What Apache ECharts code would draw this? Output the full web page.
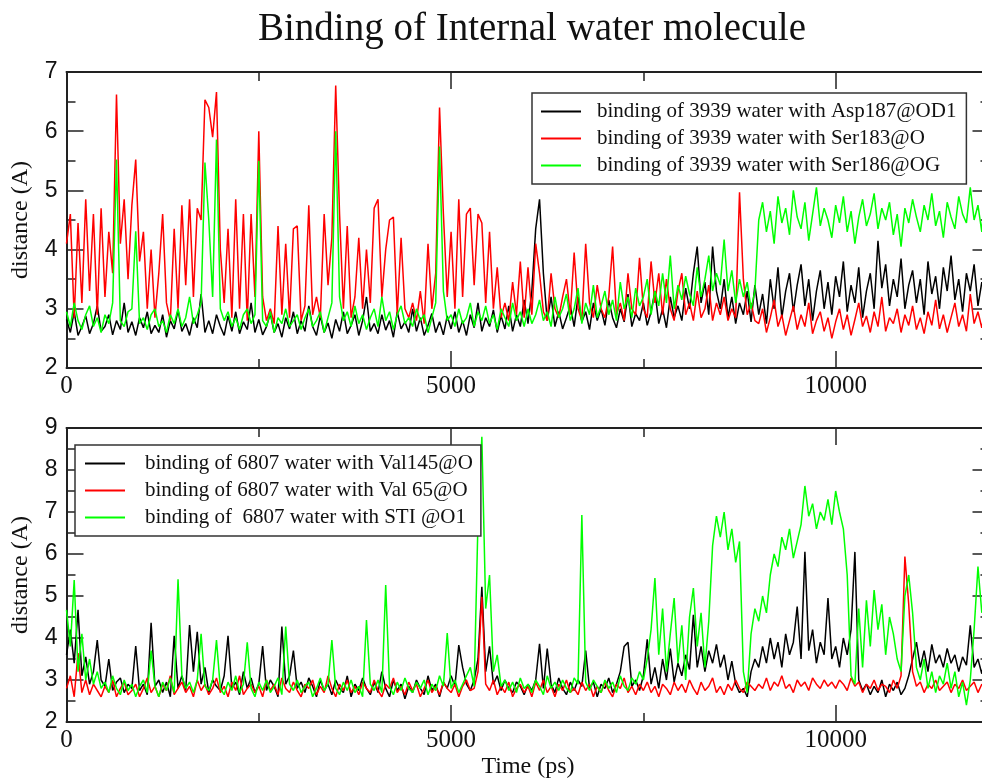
<!DOCTYPE html>
<html>
<head>
<meta charset="utf-8">
<script src="https://cdn.jsdelivr.net/npm/echarts@6/dist/echarts.min.js"></script>
<style>
  html, body { margin: 0; padding: 0; background: #fff; }
  #chart { width: 982px; height: 782px; }
</style>
</head>
<body>
<div id="chart"></div>
<script>
// sampling step of the trajectory (ps)
const stepPs = 50;

// upper panel: water 3939
const nameAsp187 = "binding of 3939 water with Asp187@OD1";
const nameSer183 = "binding of 3939 water with Ser183@O";
const nameSer186 = "binding of 3939 water with Ser186@OG";
// lower panel: water 6807
const nameVal145 = "binding of 6807 water with Val145@O";
const nameVal65 = "binding of 6807 water with Val 65@O";
const nameSti = "binding of  6807 water with STI @O1";

const asp187 = [
  2.82, 2.6, 2.95, 2.55, 2.7, 2.88, 2.58, 2.75, 3.05, 2.62,
  2.7, 2.9, 2.56, 2.8, 2.65, 3.1, 2.6, 2.78, 2.55, 2.85,
  2.68, 2.95, 2.58, 2.72, 2.6, 2.9, 2.52, 2.8, 2.66, 2.98,
  2.62, 2.75, 2.55, 2.85, 2.68, 3.25, 2.6, 2.8, 2.58, 2.9,
  2.7, 2.55, 2.88, 2.62, 2.95, 2.58, 2.78, 2.65, 3.1, 2.6,
  2.82, 2.56, 2.7, 2.92, 2.6, 2.75, 2.52, 2.85, 2.66, 2.95,
  2.58, 2.8, 2.62, 3.05, 2.7, 2.55, 2.88, 2.6, 2.76, 2.5,
  2.82, 2.62, 2.95, 2.58, 2.72, 2.9, 2.55, 2.8, 3.2, 2.62,
  2.75, 2.58, 2.9, 2.64, 2.8, 2.52, 2.95, 2.66, 2.78, 2.6,
  3.0, 2.62, 2.85, 2.55, 2.72, 2.92, 2.6, 2.78, 2.56, 2.88,
  2.66, 2.95, 2.6, 2.8, 2.55, 2.9, 2.68, 3.1, 2.62, 2.85,
  2.7, 2.98, 2.6, 2.88, 2.66, 3.05, 2.62, 2.9, 2.7, 3.15,
  2.75, 3.3, 4.35, 4.85, 3.6, 2.8, 3.2, 2.7, 2.95, 2.66,
  2.85, 3.05, 2.7, 3.2, 2.78, 2.95, 2.65, 3.1, 2.8, 3.0,
  2.72, 3.15, 2.85, 2.68, 3.0, 2.78, 3.25, 2.7, 2.92, 2.8,
  3.1, 2.72, 2.95, 3.3, 2.75, 3.0, 2.68, 3.2, 2.85, 3.05,
  2.8, 3.35, 3.0, 3.6, 4.05, 3.1, 3.45, 2.9, 4.05, 3.3,
  3.0, 3.5, 2.85, 3.2, 2.75, 3.1, 2.9, 3.3, 2.78, 3.4,
  2.9, 3.25, 2.75, 3.5, 3.0, 3.7, 2.85, 3.3, 3.6, 2.95,
  3.4, 3.75, 3.05, 3.5, 2.8, 3.3, 3.65, 3.0, 3.45, 2.9,
  3.55, 3.2, 3.8, 2.95, 3.4, 3.1, 3.7, 2.85, 3.3, 3.6,
  3.0, 4.15, 3.35, 3.75, 3.05, 3.5, 3.2, 3.85, 3.0, 3.4,
  3.65, 3.1, 3.5, 2.9, 3.8, 3.25, 3.55, 3.0, 3.7, 3.3,
  3.9, 3.15, 3.5, 2.95, 3.6, 3.3, 3.75, 3.05, 3.45, 3.2, 3.5
];

const ser183 = [
  4.1, 4.6, 2.85, 4.45, 3.1, 4.85, 3.3, 4.6, 2.9, 4.7,
  3.2, 4.3, 3.6, 6.62, 4.1, 4.85, 3.5, 4.75, 5.52, 3.8,
  4.3, 3.0, 4.0, 2.85, 3.6, 4.6, 3.1, 2.8, 4.35, 3.0,
  4.75, 3.4, 4.85, 3.2, 4.7, 4.5, 6.53, 6.4, 5.9, 6.66,
  4.0, 3.1, 4.35, 2.85, 4.85, 3.0, 4.6, 2.8, 4.6, 3.2,
  6.0, 3.2, 2.8, 3.0, 2.75, 4.4, 2.9, 4.1, 2.85, 4.35,
  4.4, 2.8, 3.05, 4.75, 2.9, 3.2, 2.85, 4.6, 3.4, 4.2,
  6.77, 4.6, 3.0, 4.4, 2.85, 3.2, 4.2, 3.0, 4.0, 3.1,
  4.7, 4.85, 3.2, 4.0, 4.5, 4.55, 2.9, 4.2, 3.0, 2.85,
  3.1, 2.8, 3.3, 2.75, 4.1, 3.0, 3.6, 6.4, 4.6, 3.2,
  4.3, 3.0, 4.85, 3.2, 4.6, 4.7, 3.4, 4.6, 4.45, 3.1,
  4.3, 3.0, 3.7, 2.85, 3.1, 2.8, 3.45, 2.9, 3.8, 2.85,
  3.7, 2.9, 4.1, 3.6, 2.95, 2.8, 3.6, 3.0, 2.85, 3.2,
  3.5, 2.9, 3.95, 3.0, 2.8, 4.1, 3.1, 2.85, 3.4, 3.0,
  2.85, 3.2, 4.05, 2.9, 3.1, 2.8, 3.6, 3.0, 2.9, 3.86,
  3.0, 2.85, 3.8, 3.1, 3.6, 2.9, 3.5, 3.0, 2.8, 3.3,
  3.6, 2.9, 3.1, 2.8, 3.3, 2.85, 3.0, 3.4, 2.8, 3.1,
  2.9, 3.2, 2.8, 3.0, 2.85, 4.97, 3.5, 2.9, 3.1, 2.8,
  2.75, 3.0, 2.6, 2.85, 3.15, 2.7, 2.9, 2.55, 2.8, 3.05,
  2.65, 2.9, 2.7, 3.1, 2.58, 2.8, 2.95, 2.62, 2.85, 2.5,
  2.78, 3.0, 2.65, 2.9, 2.55, 2.82, 3.1, 2.7, 2.88, 2.6,
  2.95, 2.7, 3.2, 2.62, 2.85, 2.75, 3.0, 2.6, 2.9, 2.72,
  3.05, 2.65, 2.85, 2.58, 2.95, 2.72, 3.15, 2.66, 2.9, 2.6,
  2.85, 3.1, 2.7, 2.9, 2.62, 3.25, 2.75, 2.95, 2.68, 3.0, 2.8
];

const ser186 = [
  2.95, 2.7, 3.1, 2.8, 2.65, 2.9, 3.05, 2.7, 2.85, 2.6,
  2.9, 2.75, 3.1, 5.52, 2.8, 2.7, 2.95, 3.0, 4.31, 2.75,
  2.85, 2.65, 2.9, 3.0, 2.7, 2.8, 2.6, 2.9, 2.75, 3.0,
  2.7, 2.85, 3.2, 2.75, 2.9, 3.1, 5.47, 4.5, 3.2, 5.86,
  3.0, 2.8, 2.95, 2.7, 2.85, 2.65, 2.9, 3.0, 2.75, 2.9,
  5.5, 2.8, 2.7, 2.95, 2.6, 2.85, 2.75, 3.0, 2.7, 2.8,
  2.9, 2.65, 2.85, 3.0, 2.7, 2.8, 2.95, 2.6, 2.85, 3.1,
  6.0, 3.2, 2.8, 2.95, 2.7, 3.05, 2.75, 2.9, 2.65, 2.85,
  3.0, 2.7, 3.2, 2.8, 2.95, 2.65, 2.9, 3.05, 2.75, 2.85,
  2.7, 3.0, 2.8, 2.9, 2.6, 2.85, 3.1, 5.74, 3.3, 2.8,
  2.9, 2.7, 3.0, 2.75, 2.85, 3.1, 2.7, 2.95, 2.8, 3.05,
  2.75, 2.9, 2.65, 3.0, 2.85, 2.7, 3.1, 2.8, 2.95, 2.7,
  3.0, 2.75, 2.9, 3.15, 2.8, 2.95, 2.7, 3.2, 2.85, 3.0,
  3.25, 2.8, 3.0, 3.35, 2.75, 3.1, 2.9, 3.4, 2.85, 3.05,
  3.3, 2.9, 3.15, 2.8, 3.45, 3.0, 3.2, 2.85, 3.35, 3.05,
  3.2, 3.5, 2.9, 3.3, 3.05, 3.6, 3.1, 3.9, 3.0, 3.4,
  3.15, 3.55, 3.25, 3.05, 3.7, 3.2, 3.5, 3.9, 3.3, 3.6,
  3.4, 4.17, 3.3, 3.65, 3.1, 3.5, 3.2, 3.45, 3.0, 3.3,
  4.5, 4.8, 4.3, 4.65, 4.1, 4.9, 4.45, 4.7, 4.25, 5.0,
  4.55, 4.35, 4.8, 4.15, 4.6, 5.05, 4.4, 4.7, 4.5, 4.2,
  4.75, 4.45, 4.9, 4.3, 4.65, 4.1, 4.55, 4.85, 4.4, 4.6,
  4.95, 4.35, 4.7, 4.5, 4.8, 4.25, 4.6, 4.05, 4.7, 4.45,
  4.85, 4.55, 4.3, 4.75, 4.5, 4.95, 4.4, 4.65, 4.2, 4.8,
  4.55, 4.35, 4.9, 4.6, 4.45, 5.05, 4.5, 4.75, 4.3, 5.2, 4.6
];

const val145 = [
  3.6, 4.2, 3.4, 4.67, 3.1, 3.55, 2.9, 3.2, 3.95, 3.0,
  2.85, 3.5, 2.75, 2.95, 3.05, 2.7, 2.9, 2.8, 3.81, 2.75,
  2.9, 2.65, 4.36, 2.85, 3.0, 2.7, 2.95, 2.6, 4.05, 2.8,
  3.1, 2.75, 4.31, 3.2, 4.15, 2.9, 3.3, 2.7, 3.0, 2.85,
  2.75, 3.1, 4.05, 2.8, 2.95, 2.65, 3.2, 2.8, 3.05, 2.7,
  2.9, 3.81, 2.75, 3.0, 2.85, 2.6, 4.27, 2.9, 3.1, 3.7,
  2.8, 2.95, 2.7, 3.05, 2.85, 2.6, 3.0, 2.75, 2.9, 2.65,
  3.0, 2.8, 2.7, 3.1, 2.6, 2.9, 2.75, 3.05, 2.8, 2.65,
  2.95, 2.7, 3.2, 2.8, 2.6, 3.0, 2.75, 2.9, 2.55, 2.85,
  2.7, 3.0, 2.8, 2.65, 3.1, 2.75, 2.9, 2.6, 2.95, 2.8,
  3.1, 2.85, 3.83, 3.3, 2.9, 2.75, 3.0, 3.5, 5.22, 3.2,
  3.8, 2.9, 3.1, 2.75, 3.0, 2.8, 2.7, 2.95, 2.85, 2.65,
  2.9, 2.75, 3.0, 3.86, 2.8, 3.75, 2.9, 2.7, 3.05, 2.8,
  2.65, 2.95, 2.75, 3.0, 2.85, 3.7, 2.8, 2.95, 2.6, 2.9,
  2.8, 3.05, 2.7, 2.9, 3.2, 3.8, 3.9, 2.85, 3.0, 2.75,
  3.1, 3.97, 2.9, 3.3, 2.8, 3.5, 3.0, 3.75, 2.95, 3.4,
  3.1, 3.6, 3.25, 4.55, 3.3, 3.8, 3.2, 3.7, 3.4, 3.85,
  3.3, 3.6, 3.0, 3.45, 2.9, 2.7, 2.8, 2.6, 3.2, 3.5,
  3.3, 3.8, 3.4, 4.0, 3.5, 3.9, 3.3, 4.1, 3.6, 3.9,
  4.75, 3.5, 6.05, 3.7, 4.2, 3.4, 3.9, 3.6, 4.95, 3.5,
  3.8, 3.3, 4.0, 3.6, 4.2, 6.05, 3.0, 2.75, 2.9, 2.65,
  2.85, 2.7, 3.0, 2.6, 2.9, 2.75, 2.95, 2.65, 2.8, 3.1,
  3.5, 3.9, 3.3, 3.7, 3.2, 3.85, 3.4, 3.6, 3.3, 3.75,
  3.4, 3.6, 3.2, 3.55, 3.35, 4.3, 3.3, 3.5, 3.15, 3.6, 3.4
];

const val65 = [
  2.8, 3.1, 2.6, 3.64, 2.7, 3.0, 2.65, 2.9, 2.75, 2.6,
  2.85, 2.7, 3.0, 2.6, 2.8, 2.95, 2.65, 2.75, 2.9, 2.6,
  2.8, 3.05, 2.7, 2.85, 2.6, 2.9, 2.75, 3.1, 2.65, 2.8,
  2.95, 2.7, 2.85, 2.6, 3.0, 2.75, 2.9, 2.65, 2.8, 3.05,
  2.7, 2.85, 2.6, 2.95, 2.75, 3.1, 2.65, 2.8, 2.9, 2.7,
  2.85, 2.6, 3.0, 2.75, 2.9, 2.65, 3.05, 2.8, 2.7, 2.95,
  2.75, 2.6, 2.9, 2.8, 3.0, 2.65, 2.85, 2.7, 3.1, 2.8,
  2.6, 2.9, 2.75, 3.0, 2.7, 2.85, 2.65, 2.95, 2.8, 2.7,
  3.0, 2.75, 2.6, 2.9, 2.8, 3.05, 2.7, 2.85, 2.65, 2.95,
  2.75, 2.9, 2.6, 2.8, 3.0, 2.7, 2.85, 2.65, 2.95, 2.8,
  2.7, 2.9, 2.6, 2.85, 3.0, 2.75, 2.8, 3.2, 4.98, 2.9,
  2.75, 3.0, 2.65, 2.85, 2.7, 2.95, 2.6, 2.8, 2.9, 2.7,
  2.85, 2.6, 2.95, 2.75, 3.0, 2.7, 2.85, 2.6, 2.9, 2.75,
  3.0, 2.7, 2.8, 2.65, 2.95, 2.75, 2.9, 2.6, 2.85, 2.7,
  2.95, 2.75, 2.6, 2.9, 2.8, 3.05, 2.7, 2.85, 2.65, 2.9,
  2.75, 2.95, 2.7, 2.85, 2.6, 2.9, 2.8, 2.65, 2.95, 2.75,
  2.9, 2.7, 3.0, 2.8, 2.65, 2.95, 2.75, 2.85, 3.05, 2.7,
  2.85, 2.65, 2.9, 2.75, 3.0, 2.8, 2.7, 2.95, 2.85, 2.75,
  2.9, 2.8, 3.05, 2.75, 2.95, 2.85, 3.1, 2.8, 2.9, 2.7,
  3.0, 2.85, 2.95, 2.75, 3.05, 2.9, 2.8, 3.0, 2.85, 2.95,
  2.8, 3.0, 2.9, 2.75, 3.05, 2.85, 2.95, 2.7, 2.9, 2.8,
  3.0, 2.75, 2.9, 2.85, 2.7, 3.0, 2.8, 3.1, 5.94, 4.8,
  3.2, 2.85, 2.95, 2.7, 2.9, 2.8, 3.0, 2.75, 2.85, 2.95,
  2.7, 2.9, 2.8, 3.0, 2.75, 2.85, 2.95, 2.7, 2.9, 2.8, 2.85
];

const sti = [
  4.67, 3.8, 5.38, 3.2, 4.1, 3.0, 3.5, 2.9, 3.2, 2.8,
  2.95, 2.7, 3.1, 2.8, 2.65, 3.0, 2.75, 2.9, 2.6, 2.85,
  3.0, 2.7, 3.7, 2.85, 2.6, 2.95, 2.75, 3.05, 2.7, 5.4,
  3.1, 2.8, 2.95, 2.7, 3.0, 4.1, 2.85, 2.75, 3.0, 3.95,
  2.8, 2.65, 2.95, 2.75, 3.1, 2.7, 2.9, 3.9, 2.8, 2.6,
  2.95, 2.75, 3.0, 2.7, 2.85, 3.05, 2.65, 4.27, 2.9, 2.75,
  3.0, 2.7, 2.85, 2.95, 2.6, 2.8, 3.05, 2.75, 2.9, 3.95,
  2.8, 2.65, 2.95, 2.75, 3.0, 2.7, 2.85, 2.6, 4.43, 2.9,
  2.75, 3.0, 2.7, 5.26, 2.85, 2.65, 2.95, 2.75, 3.05, 2.8,
  2.7, 2.95, 2.8, 3.0, 2.65, 2.9, 2.75, 3.1, 2.85, 4.12,
  2.8, 3.0, 2.7, 2.9, 3.1, 3.3, 2.85, 6.8, 8.79, 4.7,
  5.5, 3.2, 3.6, 2.85, 3.0, 2.75, 2.95, 2.7, 3.05, 2.8,
  2.9, 2.7, 3.0, 2.85, 2.65, 3.1, 2.8, 2.95, 2.75, 3.0,
  2.8, 2.7, 3.05, 2.9, 6.93, 2.95, 2.75, 3.0, 2.85, 2.7,
  3.0, 2.8, 2.95, 2.7, 3.1, 2.85, 2.75, 3.05, 2.9, 3.2,
  3.0, 3.5, 4.2, 5.43, 3.6, 4.7, 3.2, 4.1, 4.95, 3.4,
  4.3, 3.0, 4.5, 5.19, 3.8, 4.6, 3.3, 4.4, 6.2, 6.9,
  6.4, 7.0, 6.1, 6.6, 5.8, 6.3, 3.2, 2.7, 4.1, 4.7,
  4.4, 5.0, 4.6, 5.5, 6.0, 5.7, 6.4, 6.1, 6.6, 5.9,
  6.3, 6.7, 7.62, 6.9, 7.2, 6.6, 7.0, 6.8, 7.3, 6.7,
  7.5, 7.0, 6.6, 5.5, 3.1, 2.9, 4.7, 3.3, 4.9, 3.8,
  5.14, 4.2, 4.8, 3.6, 4.5, 4.1, 3.5, 3.2, 5.0, 5.5,
  4.6, 3.3, 3.0, 3.5, 2.8, 3.2, 2.7, 3.1, 2.9, 3.4,
  2.8, 3.2, 2.6, 2.95, 2.4, 3.0, 4.2, 5.7, 4.6, 5.1, 4.5
];

const xTicks = [0, 5000, 10000];
const topRange = [2, 7];
const bottomRange = [2, 9];

function pairs(values) {
  return values.map((v, i) => [i * stepPs, v]);
}

const axisColor = "#222";
const serif = "Liberation Serif";

function xAxisConf(gridIndex, position, showLabel, name) {
  return {
    type: "value",
    gridIndex: gridIndex,
    position: position,
    min: 0,
    max: 12000,
    interval: 5000,
    name: name || "",
    nameLocation: "middle",
    nameGap: 33,
    nameTextStyle: { fontFamily: serif, fontSize: 24, color: "#111" },
    axisLine: { show: true, onZero: false, lineStyle: { color: axisColor, width: 2 } },
    axisTick: { show: true, inside: true, length: 17, lineStyle: { color: axisColor, width: 1.5 } },
    minorTick: { show: true, splitNumber: 2, length: 9, lineStyle: { color: axisColor, width: 1.5 } },
    splitLine: { show: false },
    axisLabel: {
      show: showLabel,
      margin: 6,
      fontFamily: serif,
      fontSize: 25,
      color: "#111",
      formatter: (v) => (xTicks.indexOf(v) >= 0 ? String(v) : ""),
    },
  };
}

function yAxisConf(gridIndex, position, range, showLabel) {
  return {
    type: "value",
    gridIndex: gridIndex,
    position: position,
    min: range[0],
    max: range[1],
    interval: 1,
    name: showLabel ? "distance (A)" : "",
    nameLocation: "middle",
    nameGap: 34,
    nameRotate: 90,
    nameTextStyle: { fontFamily: serif, fontSize: 24, color: "#111" },
    axisLine: { show: true, onZero: false, lineStyle: { color: axisColor, width: 2 } },
    axisTick: { show: true, inside: true, length: 17, lineStyle: { color: axisColor, width: 1.5 } },
    minorTick: { show: true, splitNumber: 2, length: 9, lineStyle: { color: axisColor, width: 1.5 } },
    splitLine: { show: false },
    axisLabel: {
      show: showLabel,
      margin: 9,
      fontFamily: "Liberation Sans",
      fontSize: 23,
      color: "#111",
    },
  };
}

function lineSeries(name, values, color, axisIdx) {
  return {
    name: name,
    type: "line",
    xAxisIndex: axisIdx,
    yAxisIndex: axisIdx,
    data: pairs(values),
    symbol: "none",
    showSymbol: false,
    sampling: null,
    lineStyle: { color: color, width: 1.5 },
    itemStyle: { color: color },
  };
}

function legendConf(names, left, top, padding, textPad) {
  return {
    orient: "vertical",
    left: left,
    top: top,
    padding: padding,
    itemGap: 6,
    itemWidth: 40,
    itemHeight: 2,
    icon: "rect",
    borderColor: "#333",
    borderWidth: 1.5,
    backgroundColor: "#fff",
    data: names,
    textStyle: {
      fontFamily: serif,
      fontSize: 21,
      color: "#111",
      padding: [0, 0, 0, textPad],
    },
  };
}

let chart = echarts.init(document.getElementById("chart"), null, { renderer: "canvas" });
let option = {
  animation: false,
  backgroundColor: "#fff",
  title: {
    text: "Binding of Internal water molecule",
    left: 258,
    top: 10,
    padding: 0,
    textStyle: { fontFamily: serif, fontSize: 39, fontWeight: "normal", color: "#111" },
  },
  legend: [
    legendConf([nameAsp187, nameSer183, nameSer186], 532, 93, [8, 10, 8, 9], 11),
    legendConf([nameVal145, nameVal65, nameSti], 75, 445, [8, 8, 8, 10], 15),
  ],
  grid: [
    { left: 66.5, right: -7.5, top: 72, height: 296, outerBoundsMode: "none" },
    { left: 66.5, right: -7.5, top: 428, height: 294, outerBoundsMode: "none" },
  ],
  xAxis: [
    xAxisConf(0, "bottom", true),
    xAxisConf(1, "bottom", true, "Time (ps)"),
    xAxisConf(0, "top", false),
    xAxisConf(1, "top", false),
  ],
  yAxis: [
    yAxisConf(0, "left", topRange, true),
    yAxisConf(1, "left", bottomRange, true),
    yAxisConf(0, "right", topRange, false),
    yAxisConf(1, "right", bottomRange, false),
  ],
  series: [
    lineSeries(nameAsp187, asp187, "#000000", 0),
    lineSeries(nameSer183, ser183, "#ff0000", 0),
    lineSeries(nameSer186, ser186, "#00ff00", 0),
    lineSeries(nameVal145, val145, "#000000", 1),
    lineSeries(nameVal65, val65, "#ff0000", 1),
    lineSeries(nameSti, sti, "#00ff00", 1),
  ],
};
chart.setOption(option);
</script>
</body>
</html>
